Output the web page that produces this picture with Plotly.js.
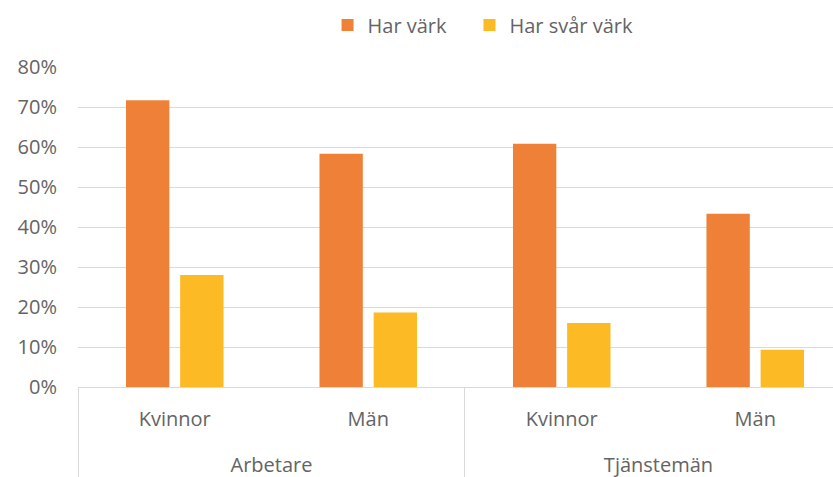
<!DOCTYPE html>
<html>
<head>
<meta charset="utf-8">
<script src="https://cdn.plot.ly/plotly-3.0.1.min.js"></script>
<style>html,body{margin:0;padding:0;background:#fff;}#chart{width:833px;height:477px;}</style>
</head>
<body>
<div id="chart"></div>
<script>
var groups = ["Arbetare", "Arbetare", "Tjänstemän", "Tjänstemän"];
var genders = ["Kvinnor", "Män", "Kvinnor", "Män"];
var harVark = [71.7, 58.3, 60.8, 43.3];
var harSvarVark = [28.0, 18.6, 16.0, 9.3];
var seriesNames = ["Har värk", "Har svår värk"];
var yTicks = [0, 10, 20, 30, 40, 50, 60, 70, 80];
var yTickLabels = ["0%", "10%", "20%", "30%", "40%", "50%", "60%", "70%", "80%"];

var keys = groups.map(function (g, i) { return g + " | " + genders[i]; });
var groupNames = groups.filter(function (g, i) { return groups.indexOf(g) === i; });

var font = {family: "Open Sans, Lato, sans-serif", size: 20, color: "#646464"};
var lineCol = "#d9d9d9";
var x1Range = [-0.5, 3.402];
var perGroup = keys.length / groupNames.length;
var x2Range = [-0.5, -0.5 + (x1Range[1] - x1Range[0]) / perGroup];

var data = [
  {type: "bar", name: seriesNames[0], x: keys, y: harVark,
   marker: {color: "#EF8038"}, hoverinfo: "y", legend: "legend"},
  {type: "bar", name: seriesNames[1], x: keys, y: harSvarVark,
   marker: {color: "#FCBA24"}, hoverinfo: "y", legend: "legend2"},
  {type: "scatter", mode: "none", x: groupNames, y: groupNames.map(function () { return 0; }),
   xaxis: "x2", yaxis: "y", showlegend: false, hoverinfo: "skip"}
];

var legendBase = {orientation: "h", xanchor: "left", y: 1.128, yanchor: "middle", font: font};

var layout = {
  width: 833, height: 477,
  margin: {l: 78, r: 0, t: 66, b: 90},
  paper_bgcolor: "#fff", plot_bgcolor: "#fff",
  font: font,
  barmode: "group",
  bargap: 0.44,
  bargroupgap: 0.2,
  showlegend: true,
  legend: Object.assign({}, legendBase, {x: 0.3305}),
  legend2: Object.assign({}, legendBase, {x: 0.5185}),
  xaxis: {type: "category", range: x1Range, tickmode: "array", tickvals: keys, ticktext: genders,
          showline: true, linecolor: lineCol, linewidth: 1, ticks: "",
          ticklabelstandoff: 14,
          tickfont: font, showgrid: false, zeroline: false, fixedrange: true},
  xaxis2: {type: "category", overlaying: "x", anchor: "y", side: "bottom",
           range: x2Range, tickson: "boundaries", ticks: "outside", ticklen: 90,
           tickcolor: lineCol, tickwidth: 1, showline: false, showgrid: false,
           zeroline: false, ticklabelstandoff: 64, tickfont: font, fixedrange: true},
  yaxis: {range: [0, 80.25], tickmode: "array", tickvals: yTicks, ticktext: yTickLabels,
          showgrid: true, gridcolor: lineCol, gridwidth: 1,
          zeroline: false, showline: false, ticks: "",
          ticklabelstandoff: 20, tickfont: font, fixedrange: true}
};

Plotly.newPlot("chart", data, layout, {displayModeBar: false, staticPlot: true});
</script>
</body>
</html>
